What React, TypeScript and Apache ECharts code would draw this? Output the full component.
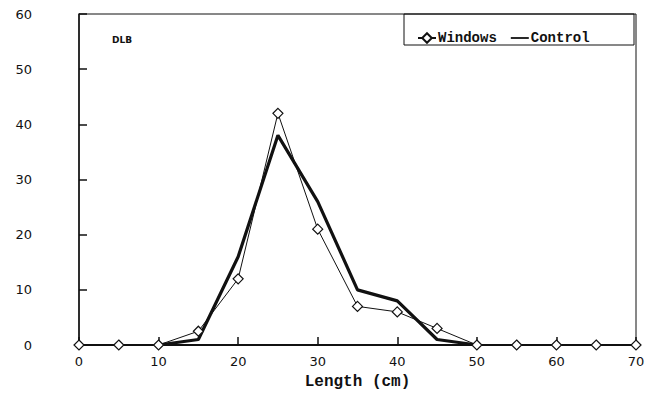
import React, { useEffect, useRef } from "react";
import * as echarts from "echarts";

const lengths = [0, 5, 10, 15, 20, 25, 30, 35, 40, 45, 50, 55, 60, 65, 70];
const windowsValues = [0, 0, 0, 2.5, 12, 42, 21, 7, 6, 3, 0, 0, 0, 0, 0];
const controlValues: (number | null)[] = [null, null, 0, 1, 16, 38, 26, 10, 8, 1, 0, null, null, null, null];
const seriesNames = ["Windows", "Control"];
const panelLabel = "DLB";
const xTitle = "Length (cm)";

export default function App() {
  const ref = useRef<HTMLDivElement>(null);
  useEffect(() => {
    if (!ref.current) return;
    const chart = echarts.init(ref.current, undefined, { renderer: "svg" });
    const numFont = { fontFamily: "DejaVu Sans", fontSize: 13, color: "#111" };
    chart.setOption({
      animation: false,
      backgroundColor: "#fff",
      grid: { left: 79, right: 27, top: 14, bottom: 55, show: true, borderColor: "#111", borderWidth: 1 },
      xAxis: {
        type: "value",
        min: 0,
        max: 70,
        interval: 10,
        name: xTitle,
        nameLocation: "middle",
        nameGap: 29,
        nameTextStyle: { fontFamily: "Liberation Mono", fontWeight: "bold", fontSize: 16, color: "#111" },
        axisLine: { lineStyle: { color: "#111", width: 2 } },
        axisTick: { inside: true, length: 8, lineStyle: { color: "#111", width: 1.5 } },
        axisLabel: { ...numFont, margin: 10 },
        splitLine: { show: false },
      },
      yAxis: {
        type: "value",
        min: 0,
        max: 60,
        interval: 10,
        axisLine: { show: true, lineStyle: { color: "#111", width: 1.5 } },
        axisTick: { show: true, inside: true, length: 8, lineStyle: { color: "#111", width: 1.5 } },
        axisLabel: { ...numFont, margin: 47 },
        splitLine: { show: false },
      },
      legend: {
        left: 412,
        top: 26,
        itemWidth: 18,
        itemHeight: 12,
        itemGap: 14,
        textStyle: { fontFamily: "Liberation Mono", fontWeight: "bold", fontSize: 14, color: "#111", padding: [0, 0, 0, -3] },
        data: [
          { name: seriesNames[0] },
          { name: seriesNames[1], icon: "path://M0 0 H20 V2 H0 Z", itemStyle: { color: "#111" } },
        ],
      },
      graphic: [
        {
          type: "rect",
          shape: { x: 404, y: 14, width: 230, height: 31 },
          style: { fill: "none", stroke: "#111", lineWidth: 1 },
          z: 100,
        },
        {
          type: "text",
          left: 112,
          top: 35,
          style: { text: panelLabel, fontFamily: "DejaVu Sans", fontWeight: "bold", fontSize: 9, fill: "#111" },
        },
      ],
      series: [
        {
          name: seriesNames[0],
          type: "line",
          data: lengths.map((x, i) => [x, windowsValues[i]]),
          symbol: "diamond",
          symbolSize: 10,
          showAllSymbol: true,
          lineStyle: { color: "#111", width: 1 },
          itemStyle: { color: "#fff", borderColor: "#111", borderWidth: 1.2 },
          z: 3,
        },
        {
          name: seriesNames[1],
          type: "line",
          data: lengths.map((x, i) => [x, controlValues[i]]),
          showSymbol: false,
          symbol: "none",
          connectNulls: false,
          lineStyle: { color: "#111", width: 3.2 },
          itemStyle: { color: "#111" },
          z: 2,
        },
      ],
    });
    return () => chart.dispose();
  }, []);
  return <div ref={ref} style={{ width: 663, height: 400, position: "absolute", left: 0, top: 0 }} />;
}
